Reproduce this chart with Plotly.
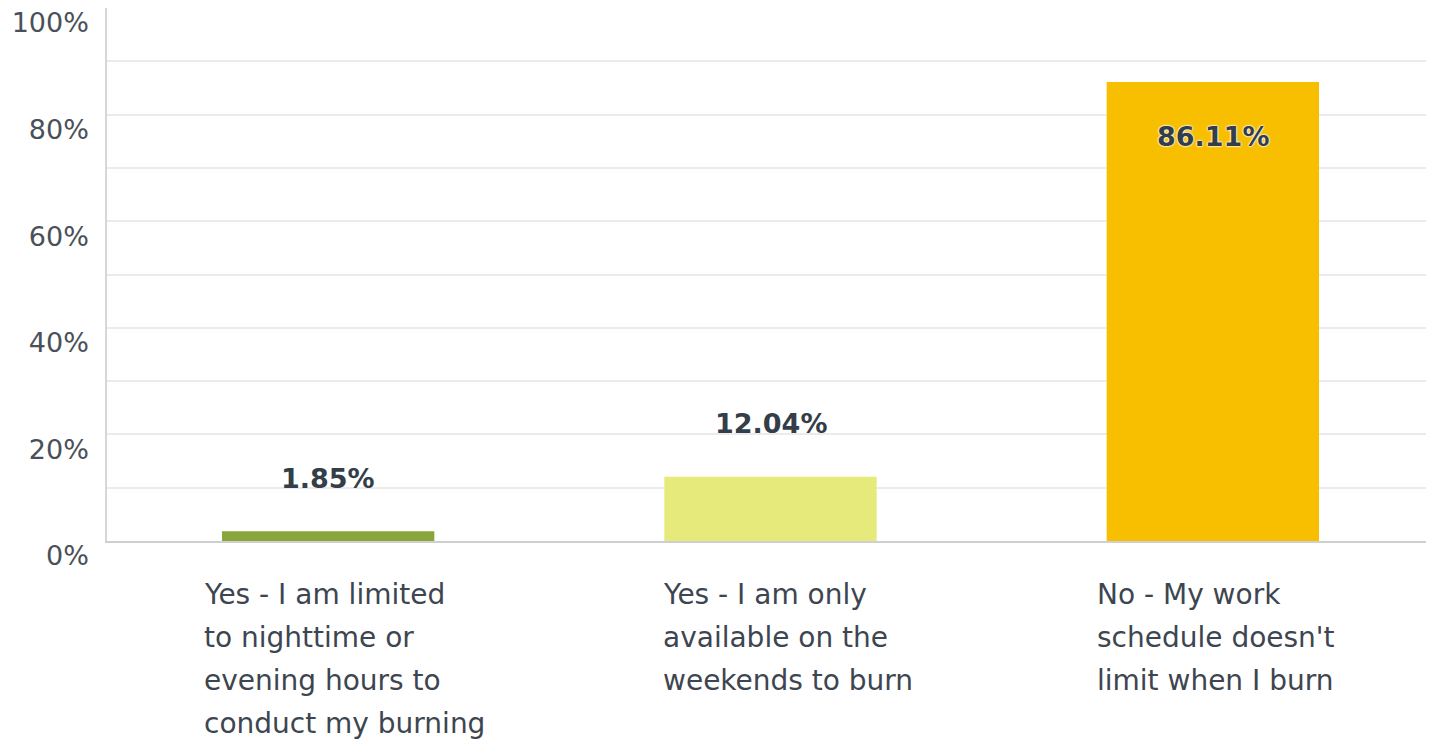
import plotly.graph_objects as go

categories = [
    ["Yes - I am limited", "to nighttime or", "evening hours to", "conduct my burning"],
    ["Yes - I am only", "available on the", "weekends to burn"],
    ["No - My work", "schedule doesn't", "limit when I burn"],
]
values = [1.85, 12.04, 86.11]
colors = ["#88a63c", "#e5ea7a", "#f8be00"]
inside_label = [False, False, True]
tick_vals = [0, 10, 20, 30, 40, 50, 60, 70, 80, 90, 100]
tick_text = ["0%", "", "20%", "", "40%", "", "60%", "", "80%", "", "100%"]

FONT = "DejaVu Sans"
TXT = "#333e48"
LBL = "#3d4650"

fig = go.Figure()
fig.add_trace(go.Bar(
    x=list(range(len(categories))), y=values,
    marker=dict(color=colors, line=dict(width=0)),
    width=0.48, hoverinfo="skip",
))

for i, (v, ins) in enumerate(zip(values, inside_label)):
    fig.add_annotation(
        x=i, y=v, xref="x", yref="y", text=f"{v:.2f}%",
        showarrow=False, xanchor="center", yanchor="middle",
        yshift=-54 if ins else 53,
        font=dict(family=FONT, size=27, color=TXT, weight="bold",
                  shadow="0 0 2px white, 0 0 2px white, 0 0 2px white" if ins else "none"),
    )

CHAR_W = 8.0
for i, lines in enumerate(categories):
    longest = max(len(s) for s in lines)
    left_shift = 18 - CHAR_W * longest
    for j, line in enumerate(lines):
        fig.add_annotation(
            x=i, y=0, xref="x", yref="y", text=line, showarrow=False,
            xanchor="left", yanchor="middle", align="left",
            xshift=left_shift, yshift=-53 - 43 * j,
            font=dict(family=FONT, size=28, color=LBL),
        )

# page body has an 8px margin; margins below compensate for it
fig.update_layout(
    width=1434, height=739,
    margin=dict(l=99, r=8, t=0, b=206),
    paper_bgcolor="white", plot_bgcolor="white",
    showlegend=False,
    xaxis=dict(range=[-0.5, 2.5], showticklabels=False, showgrid=False,
               zeroline=False, showline=True, linecolor="#cfcfcf", linewidth=2,
               fixedrange=True, automargin=False),
    yaxis=dict(range=[0, 100], tickvals=tick_vals, ticktext=tick_text,
               showgrid=True, gridcolor="#ebebeb", gridwidth=1.5,
               zeroline=False, showline=True, linecolor="#d6d6d6", linewidth=1.5,
               ticks="", ticklabelshift=15, ticklabelstandoff=11,
               ticklabeloverflow="allow",
               tickfont=dict(family=FONT, size=27, color="#4a5058"), fixedrange=True,
               automargin=False),
)

fig.write_html("out.html")
